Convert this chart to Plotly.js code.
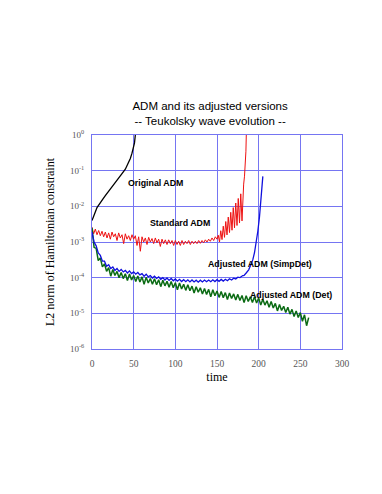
<!DOCTYPE html>
<html>
<head>
<meta charset="utf-8">
<script src="https://cdn.plot.ly/plotly-3.0.1.min.js"></script>
<style>
  html, body { margin: 0; padding: 0; background: #fff; }
  #plotArea { width: 382px; height: 494px; }
</style>
</head>
<body>
<div id="plotArea"></div>
<script>
// Original ADM (black)
var origT = [0, 1, 2, 3, 4, 5, 6, 8, 10, 13, 16, 20, 24, 28, 32, 36, 40, 43, 46, 48, 50, 51, 52];
var origY = [4.0e-3, 4.5e-3, 5.2e-3, 6.0e-3, 7.0e-3, 8.0e-3, 9.2e-3, 1.1e-2, 1.3e-2, 1.6e-2, 2.0e-2, 2.7e-2,
             3.6e-2, 4.8e-2, 6.3e-2, 8.3e-2, 1.1e-1, 1.5e-1, 2.2e-1, 3.1e-1, 4.5e-1, 0.6, 1.0];

// Standard ADM (red): noisy plateau every 2 time units from t=0
var stdNoisy = [2.6e-3, 1.7e-3, 2.3e-3, 1.6e-3, 2.1e-3, 1.5e-3, 2.0e-3, 1.4e-3, 1.9e-3, 1.3e-3,
                1.8e-3, 1.2e-3, 1.9e-3, 1.4e-3, 1.7e-3, 1.1e-3, 1.8e-3, 1.3e-3, 1.6e-3, 0.9e-3,
                1.7e-3, 1.2e-3, 1.5e-3, 1.1e-3, 1.6e-3, 1.2e-3, 1.5e-3, 0.8e-3, 1.4e-3, 0.55e-3,
                1.4e-3, 1.0e-3, 1.3e-3, 0.85e-3, 1.35e-3, 1.0e-3, 1.25e-3, 0.9e-3, 1.3e-3, 0.95e-3,
                1.2e-3, 0.75e-3, 1.2e-3, 0.9e-3, 1.15e-3, 0.85e-3, 1.15e-3, 0.9e-3, 1.1e-3, 0.8e-3,
                1.1e-3, 0.85e-3, 1.05e-3, 0.8e-3, 1.1e-3, 0.85e-3, 1.05e-3, 0.9e-3, 1.1e-3, 0.85e-3,
                1.05e-3, 0.9e-3, 1.05e-3, 0.9e-3, 1.1e-3, 0.92e-3, 1.1e-3, 0.95e-3, 1.15e-3, 1.0e-3,
                1.2e-3, 1.05e-3, 1.3e-3, 1.1e-3, 1.4e-3, 1.2e-3];
// growing oscillation every 1.5 units from t=150
var stdOsc = [1.2e-3, 1.55e-3, 1.0e-3, 2.07e-3, 1.17e-3, 2.78e-3, 1.35e-3, 3.75e-3, 1.58e-3, 5.0e-3,
              1.84e-3, 6.8e-3, 2.14e-3, 9.2e-3, 2.5e-3, 1.24e-2, 2.9e-3, 1.66e-2, 3.4e-3, 2.24e-2,
              3.9e-3];
var stdBlowT = [180, 181, 182, 183, 184, 184.7, 185.2];
var stdBlowY = [3.9e-3, 2.9e-2, 4.2e-2, 7e-2, 0.15, 0.35, 1.1];

// Adjusted ADM (SimpDet) (blue): every 2.5 units from t=0
var simpNoisy = [1.9e-3, 1.0e-3, 7.8e-4, 4.9e-4, 4.2e-4, 2.9e-4, 2.9e-4, 2.1e-4, 2.3e-4, 1.8e-4,
                 2.0e-4, 1.6e-4, 1.8e-4, 1.5e-4, 1.7e-4, 1.45e-4, 1.6e-4, 1.35e-4, 1.55e-4, 1.3e-4,
                 1.45e-4, 1.25e-4, 1.4e-4, 1.2e-4, 1.3e-4, 1.1e-4, 1.25e-4, 1.05e-4, 1.15e-4, 0.98e-4,
                 1.1e-4, 0.95e-4, 1.05e-4, 0.9e-4, 1.0e-4, 0.86e-4, 0.98e-4, 0.84e-4, 0.95e-4, 0.82e-4,
                 0.92e-4, 0.8e-4, 0.9e-4, 0.78e-4, 0.88e-4, 0.77e-4, 0.87e-4, 0.76e-4, 0.86e-4, 0.76e-4,
                 0.85e-4, 0.75e-4, 0.85e-4, 0.76e-4, 0.86e-4, 0.77e-4, 0.86e-4, 0.77e-4, 0.87e-4, 0.78e-4,
                 0.88e-4, 0.79e-4, 0.89e-4, 0.8e-4, 0.9e-4, 0.82e-4, 0.93e-4, 0.86e-4, 0.97e-4, 0.92e-4,
                 1.03e-4, 1.0e-4, 1.12e-4];
var simpBlowT = [180, 182.5, 185, 188, 191, 193, 195, 197, 199, 201, 203, 205];
var simpBlowY = [1.12e-4, 1.15e-4, 1.35e-4, 1.66e-4, 2.4e-4, 3.2e-4, 5e-4, 9.3e-4, 2e-3, 5.1e-3, 1.66e-2, 6.9e-2];

// Adjusted ADM (Det) (green): every 2.5 units from t=0
var detY = [2.5e-3, 7.1e-4, 6.6e-4, 3.0e-4, 3.6e-4, 2.0e-4, 2.45e-4, 1.5e-4, 1.9e-4, 1.1e-4,
            1.7e-4, 1.15e-4, 1.5e-4, 1.0e-4, 1.4e-4, 9.4e-5, 1.29e-4, 8.3e-5, 1.26e-4, 8.6e-5,
            1.15e-4, 7.8e-5, 1.12e-4, 7.6e-5, 1.05e-4, 6.5e-5, 1.02e-4, 7.1e-5, 9.5e-5, 6.5e-5,
            9.3e-5, 6.3e-5, 8.7e-5, 5.6e-5, 8.5e-5, 5.9e-5, 7.9e-5, 5.4e-5, 7.8e-5, 5.2e-5,
            7.2e-5, 4.6e-5, 7.1e-5, 4.8e-5, 6.5e-5, 4.4e-5, 6.3e-5, 4.3e-5, 5.8e-5, 3.7e-5,
            5.6e-5, 3.9e-5, 5.2e-5, 3.5e-5, 5.0e-5, 3.4e-5, 4.7e-5, 2.9e-5, 4.6e-5, 3.1e-5,
            4.2e-5, 2.8e-5, 4.1e-5, 2.75e-5, 3.8e-5, 2.45e-5, 3.7e-5, 2.6e-5, 3.5e-5, 2.35e-5,
            3.4e-5, 2.3e-5, 3.16e-5, 2.0e-5, 3.1e-5, 2.15e-5, 2.9e-5, 2.0e-5, 2.9e-5, 1.95e-5,
            2.7e-5, 1.7e-5, 2.5e-5, 1.7e-5, 2.25e-5, 1.48e-5, 2.15e-5, 1.41e-5, 1.9e-5, 1.17e-5,
            1.78e-5, 1.2e-5, 1.58e-5, 1.05e-5, 1.48e-5, 9.5e-6, 1.29e-5, 8.1e-6, 1.17e-5, 7.6e-6,
            1.05e-5, 6.0e-6, 9.1e-6, 4.5e-6, 7.6e-6];

var yTickVals = [1, 1e-1, 1e-2, 1e-3, 1e-4, 1e-5, 1e-6];
var yTickText = ['10<sup>0</sup>', '10<sup>-1</sup>', '10<sup>-2</sup>', '10<sup>-3</sup>',
                 '10<sup>-4</sup>', '10<sup>-5</sup>', '10<sup>-6</sup>'];

var labels = ['Original ADM', 'Standard ADM', 'Adjusted ADM (SimpDet)', 'Adjusted ADM (Det)'];
var labelX = [76, 105, 201, 239];
var labelY = [-1.35, -2.47, -3.62, -4.49];

var red = '#ee1111', blue = '#1010dd', green = '#0b6b14';
var traces = [
    {x: origT, y: origY, mode: 'lines', line: {color: '#000', width: 1.3}},
    {y: stdNoisy, x0: 0, dx: 2, mode: 'lines', line: {color: red, width: 1}},
    {y: stdOsc, x0: 150, dx: 1.5, mode: 'lines', line: {color: red, width: 1}},
    {x: stdBlowT, y: stdBlowY, mode: 'lines', line: {color: red, width: 1}},
    {y: detY, x0: 0, dx: 2.5, mode: 'lines', line: {color: green, width: 1.5}},
    {y: simpNoisy, x0: 0, dx: 2.5, mode: 'lines', line: {color: blue, width: 1.3}},
    {x: simpBlowT, y: simpBlowY, mode: 'lines', line: {color: blue, width: 1.3}}
];

var annotations = labels.map(function (s, i) {
    return {x: labelX[i], y: labelY[i], text: '<b>' + s + '</b>', showarrow: false,
            font: {family: 'Liberation Sans, Arial, sans-serif', size: 8.8, color: '#000'}};
});

var gridBlue = '#7575f2';
var layout = {
    width: 382,
    height: 494,
    showlegend: false,
    paper_bgcolor: '#fff',
    plot_bgcolor: '#fff',
    margin: {l: 92, r: 40, t: 135, b: 145},
    title: {
        text: 'ADM and its adjusted versions<br>-- Teukolsky wave evolution --',
        font: {family: 'Liberation Sans, Arial, sans-serif', size: 11.5, color: '#000'},
        x: 0.55, xanchor: 'center', y: 0.778, yanchor: 'top'
    },
    xaxis: {
        range: [0, 300],
        dtick: 50,
        showgrid: true,
        gridcolor: gridBlue,
        showline: true,
        linecolor: gridBlue,
        mirror: true,
        zeroline: false,
        ticks: '',
        ticklabelstandoff: 6,
        tickfont: {family: 'Liberation Serif, serif', size: 9.5, color: '#555'},
        title: {text: 'time', font: {family: 'Liberation Serif, serif', size: 12, color: '#000'}, standoff: 4}
    },
    yaxis: {
        type: 'log',
        range: [-6, 0],
        tickvals: yTickVals,
        ticktext: yTickText,
        showgrid: true,
        gridcolor: gridBlue,
        showline: true,
        linecolor: gridBlue,
        mirror: true,
        zeroline: false,
        ticks: '',
        ticklabelstandoff: 5,
        tickfont: {family: 'Liberation Serif, serif', size: 9, color: '#555'},
        title: {text: 'L2 norm of Hamiltonian constraint',
                font: {family: 'Liberation Serif, serif', size: 12, color: '#000'}, standoff: 12}
    },
    annotations: annotations
};

Plotly.newPlot('plotArea', traces, layout, {displayModeBar: false, staticPlot: true});
</script>
</body>
</html>
